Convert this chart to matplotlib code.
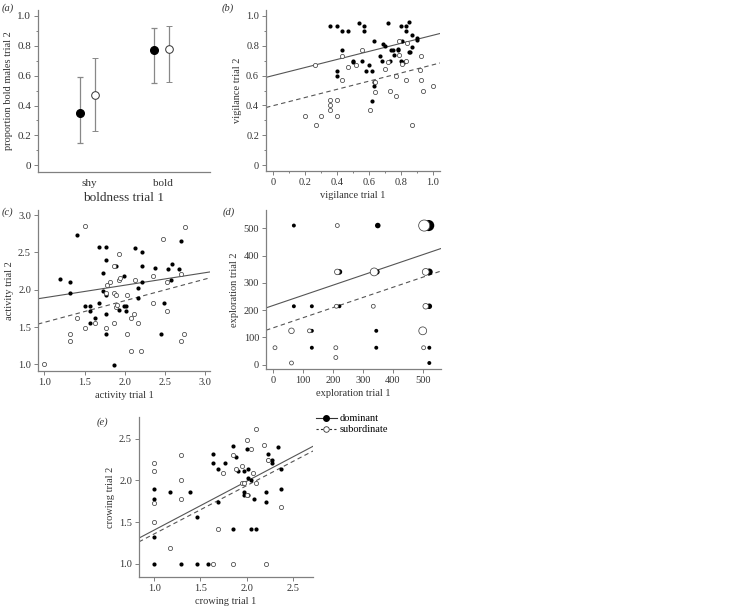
import matplotlib
matplotlib.use('Agg')
import matplotlib.pyplot as plt
from matplotlib.lines import Line2D
from matplotlib.ticker import MultipleLocator
import numpy as np

plt.rcParams['font.family'] = ['Liberation Serif', 'DejaVu Serif']
plt.rcParams['font.size'] = 7.5

# (a) proportion bold males in trial 2
a_cats = ['shy', 'bold']
a_dom = [0.35, 0.77]
a_dom_lo = [0.15, 0.55]
a_dom_hi = [0.59, 0.92]
a_sub = [0.47, 0.78]
a_sub_lo = [0.23, 0.56]
a_sub_hi = [0.72, 0.93]

# (b) vigilance
b_dom_x = [0.36, 0.40, 0.43, 0.47, 0.54, 0.57, 0.57, 0.63, 0.72, 0.80, 0.83, 0.85, 0.83, 0.87,
           0.81, 0.43, 0.69, 0.70, 0.74, 0.75, 0.78, 0.78, 0.90, 0.90, 0.87, 0.86, 0.85, 0.67,
           0.76, 0.50, 0.50, 0.56, 0.68, 0.73, 0.80, 0.82, 0.58, 0.60, 0.62, 0.40, 0.40, 0.63,
           0.63, 0.62]
b_dom_y = [0.93, 0.93, 0.90, 0.90, 0.95, 0.93, 0.90, 0.83, 0.95, 0.93, 0.93, 0.96, 0.90, 0.87,
           0.83, 0.77, 0.81, 0.80, 0.77, 0.77, 0.78, 0.77, 0.84, 0.85, 0.79, 0.76, 0.76, 0.73,
           0.74, 0.70, 0.69, 0.70, 0.70, 0.70, 0.70, 0.69, 0.63, 0.67, 0.63, 0.63, 0.60, 0.56,
           0.53, 0.43]
b_sub_x = [0.26, 0.43, 0.56, 0.47, 0.52, 0.43, 0.36, 0.40, 0.36, 0.36, 0.20, 0.30, 0.40, 0.27,
           0.61, 0.64, 0.64, 0.70, 0.72, 0.79, 0.84, 0.79, 0.81, 0.83, 0.77, 0.83, 0.73, 0.77,
           0.93, 0.92, 0.93, 0.94, 1.00, 0.87]
b_sub_y = [0.67, 0.73, 0.77, 0.66, 0.67, 0.57, 0.435, 0.435, 0.40, 0.37, 0.33, 0.33, 0.33, 0.27,
           0.37, 0.56, 0.49, 0.645, 0.69, 0.83, 0.82, 0.74, 0.68, 0.70, 0.60, 0.57, 0.50, 0.46,
           0.73, 0.64, 0.57, 0.50, 0.53, 0.27]
b_fit_dom = (0.60, 0.27)
b_fit_sub = (0.398, 0.274)

# (c) activity
c_dom_x = [1.41, 1.68, 1.77, 1.77, 1.89, 1.73, 1.19, 1.32, 1.32, 1.73, 1.77, 1.50, 1.57, 1.57,
           1.68, 1.93, 1.77, 1.63, 1.57, 1.77, 1.86, 2.70, 2.13, 2.22, 2.22, 2.38, 2.59, 2.54,
           2.67, 2.57, 2.22, 1.99, 2.17, 2.17, 1.99, 2.02, 2.02, 2.49, 2.45]
c_dom_y = [2.74, 2.57, 2.57, 2.40, 2.32, 2.23, 2.14, 2.11, 1.96, 1.99, 1.93, 1.78, 1.78, 1.72,
           1.82, 1.73, 1.68, 1.62, 1.56, 1.41, 0.99, 2.66, 2.56, 2.51, 2.32, 2.29, 2.35, 2.28,
           2.28, 2.13, 2.11, 2.19, 2.03, 1.89, 1.78, 1.78, 1.72, 1.82, 1.41]
c_sub_x = [1.00, 1.50, 1.93, 1.86, 1.93, 1.94, 1.78, 1.81, 1.77, 1.86, 1.89, 1.89, 1.90, 1.41,
           1.63, 1.86, 1.50, 1.77, 1.32, 1.32, 2.75, 2.47, 2.35, 2.70, 2.13, 2.52, 2.03, 2.35,
           2.53, 2.11, 2.08, 2.16, 2.03, 2.74, 2.70, 2.08, 2.20]
c_sub_y = [1.00, 2.85, 2.48, 2.32, 2.13, 2.16, 2.07, 2.11, 1.96, 1.96, 1.93, 1.77, 1.79, 1.62,
           1.56, 1.56, 1.49, 1.49, 1.41, 1.31, 2.84, 2.68, 2.19, 2.21, 2.13, 2.11, 1.93, 1.82,
           1.72, 1.68, 1.62, 1.56, 1.41, 1.41, 1.31, 1.18, 1.18]
c_fit_dom = (1.725, 0.168)
c_fit_sub = (1.273, 0.29)

# (d) exploration, marker size = number of males
d_dom_x = [70, 350, 520, 222, 347, 522, 70, 130, 222, 522, 130, 345, 130, 345, 522, 522]
d_dom_y = [510, 510, 510, 340, 340, 340, 214, 214, 214, 214, 124, 124, 62, 62, 62, 6]
d_dom_n = [1, 2, 8, 2, 2, 3, 1, 1, 1, 2, 1, 1, 1, 1, 1, 1]
d_sub_x = [215, 505, 215, 338, 510, 212, 335, 510, 62, 122, 500, 7, 210, 503, 210, 62]
d_sub_y = [510, 510, 340, 340, 340, 214, 214, 214, 124, 124, 124, 62, 62, 62, 26, 6]
d_sub_n = [1, 8, 2, 4, 3, 1, 1, 2, 2, 1, 4, 1, 1, 1, 1, 1]
d_fit_dom = (216.6, 0.373)
d_fit_sub = (134.6, 0.372)

# (e) crowing
e_dom_x = [1.00, 1.29, 1.46, 1.58, 1.00, 1.46, 1.00, 1.00, 1.17, 1.39, 1.64, 1.64, 1.69, 1.69,
           2.00, 1.85, 2.34, 2.23, 1.88, 2.28, 2.28, 2.23, 1.77, 1.91, 1.97, 2.02, 2.37, 2.02,
           2.05, 1.97, 1.97, 2.02, 2.08, 2.21, 2.21, 2.37, 1.85, 2.05, 2.10]
e_dom_y = [1.00, 1.00, 1.00, 1.00, 1.32, 1.56, 1.78, 1.90, 1.86, 1.86, 2.32, 2.21, 2.14, 1.74,
           2.38, 2.41, 2.40, 2.32, 2.28, 2.25, 2.21, 2.24, 2.21, 2.11, 2.11, 2.14, 2.14, 2.03,
           2.00, 1.86, 1.82, 1.82, 1.78, 1.86, 1.74, 1.90, 1.42, 1.42, 1.42]
e_sub_x = [1.64, 1.17, 1.00, 1.69, 1.00, 1.29, 1.29, 1.00, 1.00, 1.29, 2.10, 2.00, 2.05, 2.19,
           1.85, 2.23, 1.95, 1.88, 1.74, 2.07, 1.95, 1.97, 2.10, 2.00, 2.37, 1.85, 2.21]
e_sub_y = [1.00, 1.19, 1.50, 1.42, 1.73, 1.78, 2.00, 2.11, 2.21, 2.30, 2.62, 2.49, 2.38, 2.43,
           2.30, 2.25, 2.17, 2.14, 2.09, 2.09, 1.97, 1.97, 1.97, 1.82, 1.68, 1.00, 1.00]
e_fit_dom = (0.82, 0.584)
e_fit_sub = (0.78, 0.578)

W, H = 738, 607
fig = plt.figure(figsize=(W / 100, H / 100), dpi=100)

AX_COL = '#808080'
TXT_COL = '#333333'


def make_axes(left, top, right, bottom):
    ax = fig.add_axes([left / W, 1 - bottom / H, (right - left) / W, (bottom - top) / H])
    for s in ['top', 'right']:
        ax.spines[s].set_visible(False)
    for s in ['left', 'bottom']:
        ax.spines[s].set_color(AX_COL)
        ax.spines[s].set_linewidth(0.9)
    ax.tick_params(which='both', direction='out', color=AX_COL, labelcolor=TXT_COL,
                   labelsize=7.5, pad=2, width=0.7)
    ax.tick_params(which='major', length=3)
    ax.tick_params(which='minor', length=1.5)
    return ax


def panel_label(x, y, letter):
    fig.text(x / W, 1 - y / H, '(' + letter + ')', fontsize=7.5, style='italic',
             color=TXT_COL, va='center', ha='left')


def scatter_pair(ax, dx, dy, sx, sy, fit_d, fit_s, s=9):
    ax.scatter(dx, dy, s=s, color='black', linewidths=0, zorder=3)
    ax.scatter(sx, sy, s=s, facecolor='white', edgecolor='#444444', linewidths=0.55, zorder=3)
    xl = np.array(ax.get_xlim())
    ax.plot(xl, fit_d[0] + fit_d[1] * xl, color='#555555', lw=0.8, zorder=2)
    ax.plot(xl, fit_s[0] + fit_s[1] * xl, color='#555555', lw=0.8, ls=(0, (4, 3)), zorder=2)
    ax.set_xlim(xl)


# ---- (a)
ax = make_axes(38, 10, 210, 172)
ax.set_xlim(-0.69, 1.63)
ax.set_ylim(-0.045, 1.04)
xs = np.arange(len(a_cats))
ax.errorbar(xs - 0.12, a_dom,
            yerr=[np.array(a_dom) - np.array(a_dom_lo), np.array(a_dom_hi) - np.array(a_dom)],
            fmt='o', color='black', ms=5.5, ecolor='#888888', elinewidth=0.9, capsize=2.2,
            capthick=0.9, zorder=3)
ax.errorbar(xs + 0.08, a_sub,
            yerr=[np.array(a_sub) - np.array(a_sub_lo), np.array(a_sub_hi) - np.array(a_sub)],
            fmt='o', mfc='white', mec='#333333', mew=0.7, ms=5.5, ecolor='#888888',
            elinewidth=0.9, capsize=2.2, capthick=0.9, zorder=3)
ax.set_xticks(xs)
ax.set_xticklabels(a_cats, fontsize=8)
ax.tick_params(axis='x', length=0, pad=5)
ax.set_yticks([0, 0.2, 0.4, 0.6, 0.8, 1.0])
ax.set_yticklabels(['0', '0.2', '0.4', '0.6', '0.8', '1.0'], fontsize=8)
ax.yaxis.set_minor_locator(MultipleLocator(0.1))
ax.set_xlabel('boldness trial 1', color=TXT_COL, labelpad=3, fontsize=9.5)
ax.set_ylabel('proportion bold males trial 2', color=TXT_COL, labelpad=3)
panel_label(2, 8, 'a')

# ---- (b)
ax = make_axes(266, 10, 440, 171)
ax.set_xlim(-0.044, 1.046)
ax.set_ylim(-0.04, 1.04)
scatter_pair(ax, b_dom_x, b_dom_y, b_sub_x, b_sub_y, b_fit_dom, b_fit_sub)
ax.set_xticks([0, 0.2, 0.4, 0.6, 0.8, 1.0])
ax.set_xticklabels(['0', '0.2', '0.4', '0.6', '0.8', '1.0'])
ax.set_yticks([0, 0.2, 0.4, 0.6, 0.8, 1.0])
ax.set_yticklabels(['0', '0.2', '0.4', '0.6', '0.8', '1.0'])
ax.xaxis.set_minor_locator(MultipleLocator(0.1))
ax.yaxis.set_minor_locator(MultipleLocator(0.1))
ax.set_xlabel('vigilance trial 1', color=TXT_COL, labelpad=3)
ax.set_ylabel('vigilance trial 2', color=TXT_COL, labelpad=3)
panel_label(222, 8, 'b')

# ---- (c)
ax = make_axes(38, 210, 210, 371)
ax.set_xlim(0.92, 3.06)
ax.set_ylim(0.91, 3.07)
scatter_pair(ax, c_dom_x, c_dom_y, c_sub_x, c_sub_y, c_fit_dom, c_fit_sub)
ax.set_xticks([1.0, 1.5, 2.0, 2.5, 3.0])
ax.set_xticklabels(['1.0', '1.5', '2.0', '2.5', '3.0'])
ax.set_yticks([1.0, 1.5, 2.0, 2.5, 3.0])
ax.set_yticklabels(['1.0', '1.5', '2.0', '2.5', '3.0'])
ax.set_xlabel('activity trial 1', color=TXT_COL, labelpad=3)
ax.set_ylabel('activity trial 2', color=TXT_COL, labelpad=3)
panel_label(2, 212, 'c')

# ---- (d)
ax = make_axes(266, 210, 441, 369)
ax.set_xlim(-23, 561)
ax.set_ylim(-16, 567)
ax.scatter(d_dom_x, d_dom_y, s=[8 * n for n in d_dom_n], color='black', linewidths=0,
           zorder=3)
ax.scatter(d_sub_x, d_sub_y, s=[8 * n for n in d_sub_n], facecolor='white',
           edgecolor='#444444', linewidths=0.55, zorder=3)
xl = np.array(ax.get_xlim())
ax.plot(xl, d_fit_dom[0] + d_fit_dom[1] * xl, color='#555555', lw=0.8, zorder=2)
ax.plot(xl, d_fit_sub[0] + d_fit_sub[1] * xl, color='#555555', lw=0.8, ls=(0, (4, 3)), zorder=2)
ax.set_xticks([0, 100, 200, 300, 400, 500])
ax.set_yticks([0, 100, 200, 300, 400, 500])
ax.set_xlabel('exploration trial 1', color=TXT_COL, labelpad=3)
ax.set_ylabel('exploration trial 2', color=TXT_COL, labelpad=3)
panel_label(223, 212, 'd')

# ---- (e)
ax = make_axes(139, 417, 313, 577)
ax.set_xlim(0.834, 2.72)
ax.set_ylim(0.84, 2.76)
scatter_pair(ax, e_dom_x, e_dom_y, e_sub_x, e_sub_y, e_fit_dom, e_fit_sub)
ax.set_xticks([1.0, 1.5, 2.0, 2.5])
ax.set_xticklabels(['1.0', '1.5', '2.0', '2.5'])
ax.set_yticks([1.0, 1.5, 2.0, 2.5])
ax.set_yticklabels(['1.0', '1.5', '2.0', '2.5'])
ax.set_xlabel('crowing trial 1', color=TXT_COL, labelpad=3)
ax.set_ylabel('crowing trial 2', color=TXT_COL, labelpad=3)
panel_label(97, 422, 'e')

handles = [
    Line2D([], [], color='#333333', lw=0.8, marker='o', ms=4, mfc='black', mec='black'),
    Line2D([], [], color='#333333', lw=0.8, ls=(0, (2, 2)), marker='o', ms=4, mfc='white',
           mec='#333333', mew=0.6),
]
ax.legend(handles, ['dominant', 'subordinate'], loc='upper left',
          bbox_to_anchor=(316 / W, 1 - 414 / H), bbox_transform=fig.transFigure,
          frameon=False, fontsize=7.5, handlelength=2.0, handletextpad=0.3,
          labelspacing=0.15, borderaxespad=0, borderpad=0)

fig.savefig('out.png', dpi=100)
